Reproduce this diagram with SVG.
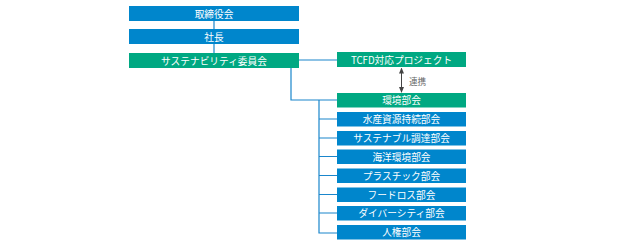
<svg xmlns="http://www.w3.org/2000/svg" width="630" height="246" viewBox="0 0 630 246">
<style>
.b{fill:#0086cc}
.g{fill:#00a882}
.t{font-family:"Noto Sans CJK JP","Noto Sans",sans-serif;font-size:9.7px;fill:#fff;text-anchor:middle;dominant-baseline:central}
.c{fill:none;stroke:#1a86cc;stroke-width:1.2}
.a{fill:none;stroke:#444;stroke-width:1}
.l{font-family:"Noto Sans CJK JP","Noto Sans",sans-serif;font-size:8.6px;fill:#666;dominant-baseline:central}
</style>
<defs>
<marker id="ah" viewBox="0 0 6 6" refX="5" refY="3" markerWidth="6" markerHeight="6" orient="auto-start-reverse">
<path d="M0,0.5 L6,3 L0,5.5 Z" fill="#444"/>
</marker>
</defs>
<g id="connectors">
<path class="c" d="M214,21 V53"/>
<path class="c" d="M299,60 H337"/>
<path class="c" d="M291,68 V100 H337"/>
<path class="c" d="M319,100 V233 H337"/>
<path class="c" d="M319,119 H337 M319,138 H337 M319,156.5 H337 M319,175.5 H337 M319,194.5 H337 M319,213 H337"/>
<path class="a" d="M401.5,68.5 V92" marker-start="url(#ah)" marker-end="url(#ah)"/>
<text class="l" x="409" y="81">連携</text>
</g>
<g id="n1"><rect class="b" x="129" y="6" width="170" height="15"/><text class="t" x="214" y="13.5">取締役会</text></g>
<g id="n2"><rect class="b" x="129" y="29" width="170" height="15"/><text class="t" x="214" y="36.5">社長</text></g>
<g id="n3"><rect class="g" x="129" y="53" width="170" height="15"/><text class="t" x="214" y="60.5">サステナビリティ委員会</text></g>
<g id="n4"><rect class="g" x="337" y="52" width="129" height="15"/><text class="t" x="401.5" y="59.5">TCFD対応プロジェクト</text></g>
<g id="n5"><rect class="g" x="337" y="93" width="129" height="14.5"/><text class="t" x="401.5" y="100.2">環境部会</text></g>
<g id="n6"><rect class="b" x="337" y="112" width="129" height="14.5"/><text class="t" x="401.5" y="119.2">水産資源持続部会</text></g>
<g id="n7"><rect class="b" x="337" y="131" width="129" height="14.5"/><text class="t" x="401.5" y="138.2">サステナブル調達部会</text></g>
<g id="n8"><rect class="b" x="337" y="149.5" width="129" height="14.5"/><text class="t" x="401.5" y="156.7">海洋環境部会</text></g>
<g id="n9"><rect class="b" x="337" y="168.5" width="129" height="14.5"/><text class="t" x="401.5" y="175.7">プラスチック部会</text></g>
<g id="n10"><rect class="b" x="337" y="187.5" width="129" height="14.5"/><text class="t" x="401.5" y="194.7">フードロス部会</text></g>
<g id="n11"><rect class="b" x="337" y="206" width="129" height="14.5"/><text class="t" x="401.5" y="213.2">ダイバーシティ部会</text></g>
<g id="n12"><rect class="b" x="337" y="225" width="129" height="14.5"/><text class="t" x="401.5" y="232.2">人権部会</text></g>
</svg>
